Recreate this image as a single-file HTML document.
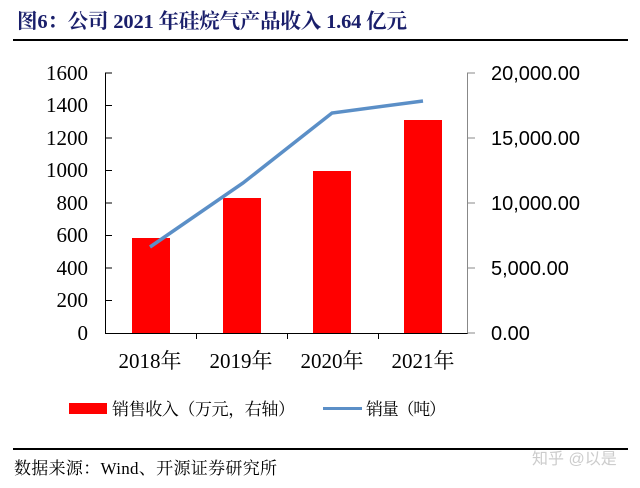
<!DOCTYPE html>
<html><head><meta charset="utf-8"><style>
body{margin:0;background:#fff;width:640px;height:483px;overflow:hidden}
svg text{font-family:"Liberation Serif","Noto Serif CJK SC",serif}
svg text.s{font-family:"Liberation Sans","Noto Sans CJK SC",sans-serif}
</style></head><body>
<svg width="640" height="483" viewBox="0 0 640 483" xmlns="http://www.w3.org/2000/svg">
<text x="17" y="28" font-size="20.5" font-weight="bold" fill="#1a1f6b" textLength="390">图6：公司 2021 年硅烷气产品收入 1.64 亿元</text>
<line x1="13" y1="40" x2="628" y2="40" stroke="#000" stroke-width="2"/>
<g fill="#ff0000">
<rect x="132" y="238" width="38" height="95"/>
<rect x="223" y="198" width="38" height="135"/>
<rect x="313" y="171" width="38" height="162"/>
<rect x="404" y="120" width="38" height="213"/>
</g>
<g stroke="#000" stroke-width="1">
<line x1="105.5" y1="73" x2="105.5" y2="333"/>
<line x1="105" y1="333.5" x2="468" y2="333.5"/>
<line x1="105" y1="73" x2="112" y2="73"/><line x1="105" y1="105.5" x2="112" y2="105.5"/>
<line x1="105" y1="138" x2="112" y2="138"/><line x1="105" y1="170.5" x2="112" y2="170.5"/>
<line x1="105" y1="203" x2="112" y2="203"/><line x1="105" y1="235.5" x2="112" y2="235.5"/>
<line x1="105" y1="268" x2="112" y2="268"/><line x1="105" y1="300.5" x2="112" y2="300.5"/>
<line x1="196.5" y1="333" x2="196.5" y2="339"/><line x1="287.5" y1="333" x2="287.5" y2="339"/>
<line x1="378.5" y1="333" x2="378.5" y2="339"/>
</g>
<g stroke="#888" stroke-width="1">
<line x1="467.5" y1="73" x2="467.5" y2="333"/>
<line x1="467" y1="73" x2="475" y2="73"/><line x1="467" y1="138" x2="475" y2="138"/>
<line x1="467" y1="203" x2="475" y2="203"/><line x1="467" y1="268" x2="475" y2="268"/>
<line x1="467" y1="333" x2="475" y2="333"/>
</g>
<polyline points="150,247 243,183 332,113 423,101" fill="none" stroke="#5b8fc7" stroke-width="3.5"/>
<g font-size="21" text-anchor="end" fill="#000">
<text x="88" y="80">1600</text><text x="88" y="112">1400</text><text x="88" y="145">1200</text>
<text x="88" y="177">1000</text><text x="88" y="210">800</text><text x="88" y="242">600</text>
<text x="88" y="275">400</text><text x="88" y="307">200</text><text x="88" y="340">0</text>
</g>
<g font-size="20" fill="#000">
<text class="s" x="491" y="80">20,000.00</text><text class="s" x="491" y="145">15,000.00</text>
<text class="s" x="491" y="210">10,000.00</text><text class="s" x="491" y="275">5,000.00</text><text class="s" x="491" y="340">0.00</text>
</g>
<g font-size="21" text-anchor="middle" fill="#000">
<text x="150" y="368">2018年</text><text x="241" y="368">2019年</text>
<text x="332" y="368">2020年</text><text x="423" y="368">2021年</text>
</g>
<rect x="69" y="403" width="38" height="11" fill="#ff0000"/>
<text x="112" y="415" font-size="17" fill="#000" textLength="183">销售收入（万元，右轴）</text>
<line x1="323" y1="408.5" x2="362" y2="408.5" stroke="#5b8fc7" stroke-width="3"/>
<text x="366" y="415" font-size="17" fill="#000" textLength="80">销量（吨）</text>
<line x1="13" y1="449" x2="628" y2="449" stroke="#000" stroke-width="2"/>
<text x="14" y="474" font-size="17" fill="#000" textLength="263">数据来源：Wind、开源证券研究所</text>
<text class="s" x="532" y="464" font-size="16" fill="#ccc">知乎 @以是</text>
</svg>
</body></html>
